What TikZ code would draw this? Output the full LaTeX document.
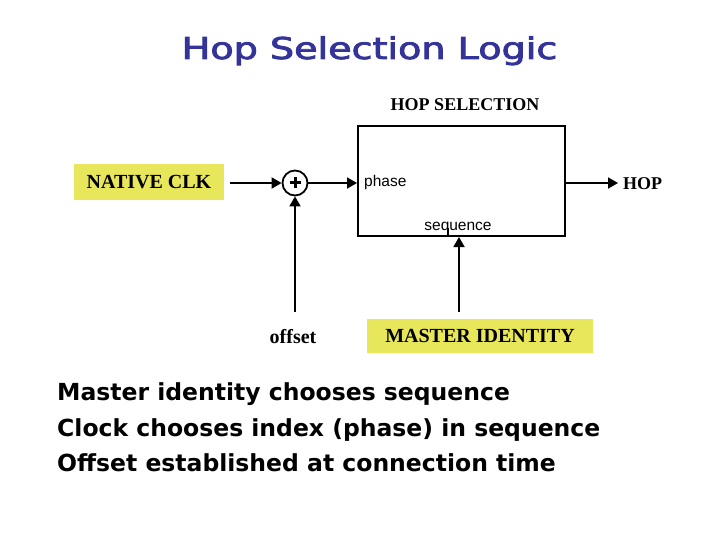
\documentclass[tikz,border=0pt]{standalone}
\usepackage{graphicx}
\usepackage{fontspec}
\setmainfont{Liberation Serif}
\newfontfamily\dvs{DejaVu Sans}
\newfontfamily\dvst[FakeBold=2.5]{DejaVu Sans}
\newfontfamily\lsans{Liberation Sans}
\usetikzlibrary{arrows.meta}
\definecolor{ylw}{RGB}{232,230,90}
\definecolor{ttl}{RGB}{51,51,153}
\begin{document}
\begin{tikzpicture}[x=1pt,y=-1pt,
  arr/.style={line width=1.8pt,-{Triangle[length=10pt,width=11pt]}},
  lbl/.style={font=\fontsize{20}{24}\selectfont\bfseries, inner sep=0pt},
  ybox/.style={fill=ylw, inner sep=0pt},
  small/.style={font=\lsans\fontsize{15.5}{18}\selectfont, inner sep=0pt},
  body/.style={anchor=base west, font=\dvs\bfseries\fontsize{23.5}{28}\selectfont, inner sep=0pt}]
\useasboundingbox (0,0) rectangle (720,540);
\fill[white] (0,0) rectangle (720,540);
% title
\node[anchor=base, text=ttl, inner sep=0pt, font=\dvst\fontsize{30}{36}\selectfont] (title) at (369.5,59) {\scalebox{1.27}[1]{Hop Selection Logic}};
% nodes
\node[ybox, minimum width=150pt, minimum height=36pt, font=\fontsize{20}{24}\selectfont\bfseries] (clk) at (149,182) {NATIVE CLK};
\node[draw, circle, line width=1.8pt, minimum size=25pt, inner sep=0pt] (sum) at (295,183) {};
\draw[line width=3pt] (sum.center) ++(-5.5,0) -- ++(11,0);
\draw[line width=3pt] (sum.center) ++(0,-5.5) -- ++(0,11);
\node[draw, line width=2pt, minimum width=207pt, minimum height=110pt, inner sep=0pt] (hs) at (461.5,181) {};
\node[lbl, font=\fontsize{18}{22}\selectfont\bfseries] (hstitle) at (465,105) {HOP SELECTION};
\node[small, anchor=west] (ph) at (364,182) {phase};
\node[small] (sq) at (458,228) {sequence};
\draw[line width=1.5pt] ([xshift=-13.5pt]hs.south) -- ++(0,-9);
\node[lbl, font=\fontsize{18}{22}\selectfont\bfseries, anchor=west] (hop) at (623,184) {HOP};
\node[lbl] (off) at (293,337) {offset};
\coordinate (offtop) at (295,312);
\node[ybox, minimum width=226pt, minimum height=34pt, font=\fontsize{20}{24}\selectfont\bfseries] (mid) at (480,336) {MASTER IDENTITY};
\coordinate (mtop) at (459,312);
% connectors
\draw[arr] ([xshift=6pt]clk.east |- sum.west) -- (sum.west);
\draw[arr] (sum.east) -- (sum.east -| hs.west);
\draw[arr] (offtop) -- (sum.south);
\draw[arr] (mtop) -- (mtop |- hs.south);
\draw[arr, shorten >=5pt] (hs.east |- sum.east) -- (hop.west |- sum.east);
% body text
\node[body] (l1) at (57,400) {Master identity chooses sequence};
\node[body] (l2) at (57,436) {Clock chooses index (phase) in sequence};
\node[body] (l3) at (57,471) {Offset established at connection time};
\end{tikzpicture}
\end{document}
